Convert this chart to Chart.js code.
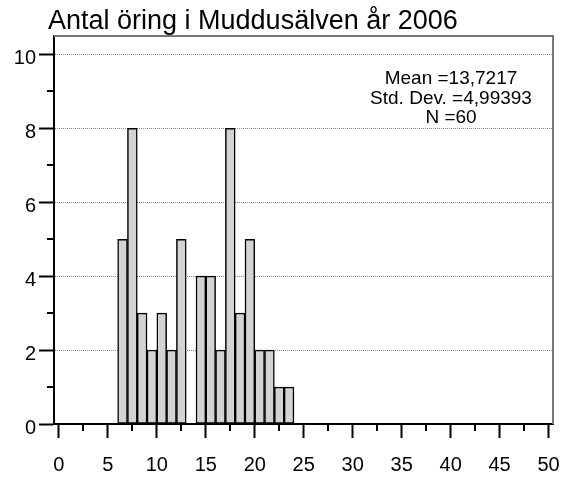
<!DOCTYPE html>
<html>
<head>
<meta charset="utf-8">
<script src="https://cdn.jsdelivr.net/npm/chart.js@4"></script>
<style>
  html, body { margin: 0; padding: 0; background: #fff; }
  #wrap { width: 568px; height: 477px; }
</style>
</head>
<body>
<div id="wrap"><canvas id="histChart"></canvas></div>
<script>
var chartTitle = 'Antal öring i Muddusälven år 2006';
var binStarts = [6, 7, 8, 9, 10, 11, 12, 13, 14, 15, 16, 17, 18, 19, 20, 21, 22, 23];
var counts = [5, 8, 3, 2, 3, 2, 5, 0, 4, 4, 2, 8, 3, 5, 2, 2, 1, 1];
var xTicks = [0, 5, 10, 15, 20, 25, 30, 35, 40, 45, 50];
var xMinorTicks = [2.5, 7.5, 12.5, 17.5, 22.5, 27.5, 32.5, 37.5, 42.5, 47.5];
var yTicks = [0, 2, 4, 6, 8, 10];
var yMinorTicks = [1, 3, 5, 7, 9];
var statLines = ['Mean =13,7217', 'Std. Dev. =4,99393', 'N =60'];

var FONT = '"Liberation Sans", Arial, sans-serif';

// frame, minor ticks, title and the stats box
var extras = {
    id: 'extras',
    afterDraw: function(chart) {
        var ctx = chart.ctx;
        var a = chart.chartArea;
        var xs = chart.scales.x, ys = chart.scales.y;
        ctx.save();

        ctx.strokeStyle = '#777';
        ctx.lineWidth = 2;
        ctx.beginPath();
        ctx.moveTo(a.left, a.top);
        ctx.lineTo(a.right, a.top);
        ctx.lineTo(a.right, a.bottom);
        ctx.stroke();

        ctx.strokeStyle = '#000';
        ctx.lineWidth = 2;
        ctx.beginPath();
        xMinorTicks.forEach(function(v) {
            var px = Math.round(xs.getPixelForValue(v));
            ctx.moveTo(px, a.bottom);
            ctx.lineTo(px, a.bottom + 7);
        });
        yMinorTicks.forEach(function(v) {
            var py = Math.round(ys.getPixelForValue(v));
            ctx.moveTo(a.left, py);
            ctx.lineTo(a.left - 7, py);
        });
        ctx.stroke();

        ctx.fillStyle = '#000';
        ctx.font = '27px ' + FONT;
        ctx.textAlign = 'left';
        ctx.textBaseline = 'alphabetic';
        ctx.fillText(chartTitle, a.left - 6, 29);

        ctx.font = '19px ' + FONT;
        ctx.textAlign = 'center';
        statLines.forEach(function(s, i) {
            ctx.fillText(s, a.right - 102, a.top + 48 + i * 19.5);
        });
        ctx.restore();
    }
};

var ctx = document.getElementById('histChart').getContext('2d');
var histChart = new Chart(ctx, {
    type: 'bar',
    data: {
        datasets: [{
            data: binStarts.map(function(s, i) {
                return { x: s + 0.5, y: counts[i] };
            }),
            backgroundColor: '#d3d3d3',
            borderColor: '#000',
            borderWidth: 1.5,
            borderSkipped: false,
            barPercentage: 1,
            categoryPercentage: 1
        }]
    },
    options: {
        responsive: true,
        maintainAspectRatio: false,
        animation: false,
        layout: { padding: { top: 36, right: 15, left: 0, bottom: 0 } },
        plugins: {
            legend: { display: false },
            tooltip: { enabled: false }
        },
        scales: {
            x: {
                type: 'linear',
                offset: false,
                min: -0.5,
                max: 50.45,
                afterBuildTicks: function(s) {
                    s.ticks = xTicks.map(function(v) { return { value: v }; });
                },
                afterFit: function(s) {
                    s.height = 53;
                    s.paddingLeft = 0;
                    s.paddingRight = 0;
                },
                grid: { offset: false, drawOnChartArea: false, tickLength: 14, tickWidth: 2, tickColor: '#000' },
                border: { color: '#000', width: 2, z: 1 },
                ticks: {
                    color: '#000',
                    font: { family: FONT, size: 20 },
                    padding: 15,
                    maxRotation: 0,
                    autoSkip: false
                }
            },
            y: {
                min: 0,
                max: 10.5,
                afterBuildTicks: function(s) {
                    s.ticks = yTicks.map(function(v) { return { value: v }; });
                },
                afterFit: function(s) { s.width = 54; },
                grid: {
                    color: function(c) { return c.tick && c.tick.value === 0 ? 'rgba(0,0,0,0)' : '#888'; },
                    lineWidth: 1,
                    tickLength: 15,
                    tickWidth: 2,
                    tickColor: '#000'
                },
                border: { color: '#000', width: 2, dash: [1, 1], z: 1 },
                ticks: {
                    color: '#000',
                    font: { family: FONT, size: 20 },
                    padding: 3,
                    labelOffset: 4.5
                }
            }
        }
    },
    plugins: [extras]
});
</script>
</body>
</html>
